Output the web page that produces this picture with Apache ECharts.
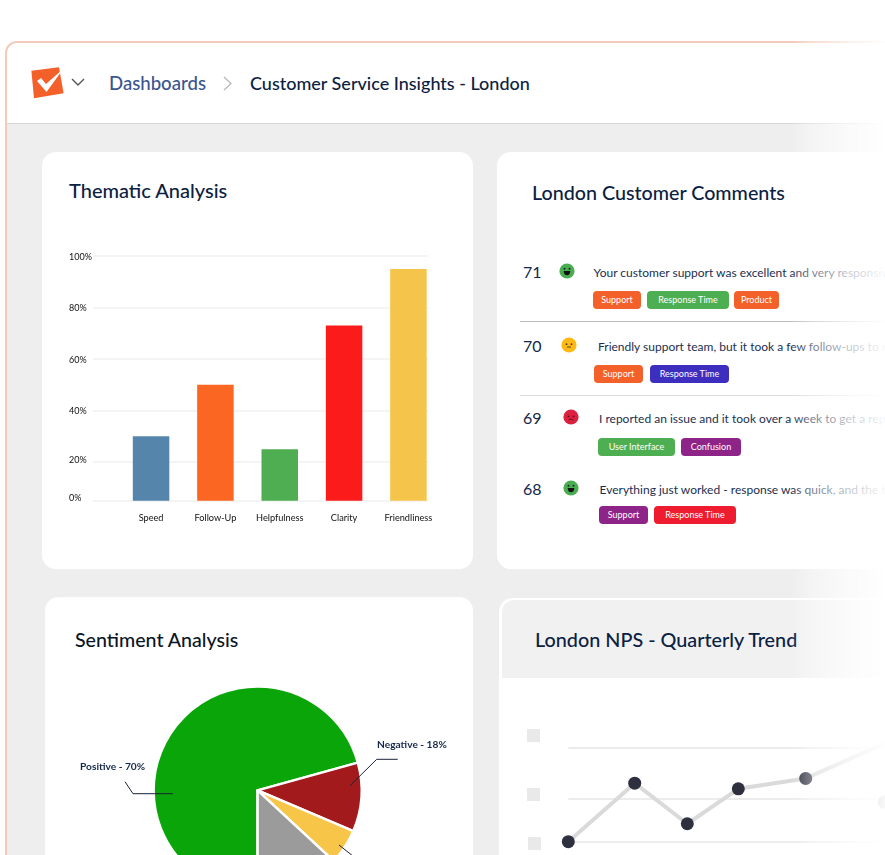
<!DOCTYPE html>
<html><head><meta charset="utf-8">
<script src="https://cdn.jsdelivr.net/npm/echarts@6/dist/echarts.min.js"></script>
<style>
html,body{margin:0;padding:0;width:885px;height:855px;overflow:hidden;background:#fff;font-family:Lato,sans-serif;color:#0b2142}
.abs{position:absolute;white-space:nowrap}
#frame{left:5px;top:41px;width:900px;height:900px;border:2px solid #f3c9b8;border-radius:12px;background:#eee;box-sizing:border-box;overflow:hidden}
#head{left:0;top:0;width:900px;height:80px;background:#fff;border-bottom:1px solid #d6d6d6}
.card{background:#fff;border-radius:14px}
.t{font-weight:500;line-height:24px;transform-origin:left center}
.num{font-size:16px;line-height:20px;color:#13284a}
.msg{font-size:12px;line-height:16px;color:#1b2f50}
.tag{height:18px;line-height:18px;border-radius:4px;color:#fff;font-size:9px;text-align:center}
#fade{left:790px;top:0;width:95px;height:855px;background:linear-gradient(90deg,rgba(255,255,255,0) 0,rgba(255,255,255,.35) 20%,rgba(255,255,255,.72) 62%,rgba(255,255,255,.96) 100%);z-index:5}
#chart{position:absolute;left:0;top:0;width:885px;height:855px;z-index:3}
.sq{width:13px;height:13px;background:#e9e9e9}
</style></head><body>
<div class="abs" id="frame"><div class="abs" id="head"></div></div>
<svg class="abs" style="left:28px;top:64px" width="38" height="38" viewBox="0 0 38 38">
<path d="M3.4 6.7 L31 3.3 L35.6 29.3 L6 34.3 Z" fill="#f4602a"/>
<path d="M9 17 L13 14 L18 20 L35.6 4.5 L18.5 28 Z" fill="#fff"/></svg>
<svg class="abs" style="left:71px;top:78px" width="14" height="9"><path d="M1 1 L7 7 L13 1" fill="none" stroke="#555" stroke-width="1.4"/></svg>
<div class="abs t" id="crumb1" style="left:109px;top:71px;font-size:18.6px;color:#3a5590">Dashboards</div>
<svg class="abs" style="left:223px;top:76px" width="10" height="15"><path d="M1 1 L8 7.5 L1 14" fill="none" stroke="#bbb" stroke-width="1.4"/></svg>
<div class="abs t" style="left:250px;top:71px;font-size:18px">Customer Service Insights - London</div>

<div class="abs card" style="left:42px;top:152px;width:431px;height:417px"></div>
<div class="abs card" style="left:497px;top:152px;width:420px;height:417px"></div>
<div class="abs card" style="left:45px;top:597px;width:428px;height:300px"></div>
<div class="abs" style="left:499px;top:598px;width:420px;height:300px;background:#fff;border-radius:14px"></div>
<div class="abs" style="left:502px;top:600px;width:420px;height:78px;background:#f1f1f2;border-radius:12px 0 0 0"></div>

<div class="abs t" style="left:69px;top:178px;font-size:20px">Thematic Analysis</div>
<div class="abs t" style="left:532px;top:181px;font-size:19.7px">London Customer Comments</div>
<div class="abs t" style="left:75px;top:628px;font-size:19.6px;color:#0a1526">Sentiment Analysis</div>
<div class="abs t" style="left:535px;top:627px;font-size:19.8px">London NPS - Quarterly Trend</div>
<div id="rows"></div>
<div class="abs" style="left:520px;top:320.5px;width:365px;height:1.5px;background:#bdbdbd"></div>
<div class="abs" style="left:520px;top:394.5px;width:365px;height:1.5px;background:#dcdcdc"></div>
<div class="abs sq" style="left:527px;top:729px"></div>
<div class="abs sq" style="left:527px;top:788px"></div>
<div class="abs sq" style="left:528px;top:837px"></div>
<div id="chart"></div>
<div class="abs" id="fade"></div>
<script>
// ---- data ----
const themeNames = ['Speed','Follow-Up','Helpfulness','Clarity','Friendliness'];
const themeValues = [30,50,25,73,95];
const themeColors = ['#5585ab','#fb6722','#4fae52','#fb1b1b','#f5c44a'];
const axisTickValues = [5,20,40,60,80,100];
const axisTickLabels = ['0%','20%','40%','60%','80%','100%'];
const sentimentLabels = ['Positive - 70%','Negative - 18%',' ',''];
const sentimentValues = [70.7,10.7,5.5,13.1];
const sentimentColors = ['#0aa508','#a31a1c','#f7c548','#9b9b9b'];
const trendX = [0,66.4,119,170,237.4,340];
const trendY = [0,62,19,56,67,115];
const trendGrid = [0,46,100];
const strayDot = [[316,42]];
const comments = [
 {n:71,mood:'happy',x:593.5,y:273,nx:523,fx:567,text:'Your customer support was excellent and very responsive to my questions',ty:291,tags:[['Support',593,48,'#f4602a'],['Response Time',647,82,'#4eae52'],['Product',734,45,'#f4602a']]},
 {n:70,mood:'flat',x:598,y:347,nx:523,fx:569,text:'Friendly support team, but it took a few follow-ups to resolve',ty:365,tags:[['Support',594,49,'#f4602a'],['Response Time',650,79,'#3d2ec0']]},
 {n:69,mood:'sad',x:599,y:419,nx:523,fx:570.5,text:'I reported an issue and it took over a week to get a reply',ty:437.5,tags:[['User Interface',598,77,'#4eae52'],['Confusion',681,60,'#8e2388']]},
 {n:68,mood:'happy',x:599.5,y:490,nx:523,fx:570.5,text:'Everything just worked - response was quick, and the team',ty:506,tags:[['Support',599,49,'#8e2388'],['Response Time',654,82,'#ee1c2e']]}
];
// ---- comment rows ----
const faces={
 happy:'<circle cx="8" cy="8" r="7.6" fill="#4aae50"/><circle cx="5.5" cy="5.8" r="1" fill="#123"/><circle cx="10.5" cy="5.8" r="1" fill="#123"/><path d="M4.6 8 H11.4 Q11 12.2 8 12.2 Q5 12.2 4.6 8Z" fill="#111"/>',
 flat:'<circle cx="8" cy="8" r="7.6" fill="#fdb913"/><circle cx="5.5" cy="7.2" r=".9" fill="#533"/><circle cx="10.5" cy="7.2" r=".9" fill="#533"/><path d="M6 10 H10" stroke="#533" stroke-width=".9"/>',
 sad:'<circle cx="8" cy="8" r="7.6" fill="#dc2040"/><circle cx="5.5" cy="7.4" r=".9" fill="#611"/><circle cx="10.5" cy="7.4" r=".9" fill="#611"/><path d="M5.5 11 Q8 9 10.5 11" fill="none" stroke="#611" stroke-width=".9"/>'};
let html='';
comments.forEach(c=>{
 html+=`<div class="abs num" style="left:${c.nx}px;top:${c.y-11}px">${c.n}</div>`;
 html+=`<svg class="abs" style="left:${c.fx-8}px;top:${c.y-10}px" width="16" height="16">${faces[c.mood]}</svg>`;
 html+=`<div class="abs msg" style="left:${c.x}px;top:${c.y-8}px">${c.text}</div>`;
 c.tags.forEach(t=>{html+=`<div class="abs tag" style="left:${t[1]}px;top:${c.ty}px;width:${t[2]}px;background:${t[3]}">${t[0]}</div>`;});
});
document.getElementById('rows').innerHTML=html;
// ---- charts ----
const font='Lato';
const chart=echarts.init(document.getElementById('chart'),null,{renderer:'canvas'});
const labelPos={
 0:{x:80,y:766.5,pts:[[172.7,793.7],[133,793.7],[125,781.7]]},
 1:{x:377,y:745,pts:[[350,785.7],[376.7,759.3],[397.7,759.3]]},
 2:{x:360,y:880,pts:[[339,845],[358,860],[360,880]]}
};
const labelBase={fontFamily:font,fontSize:9,color:'#111'};
chart.setOption({
 backgroundColor:'transparent',
 animation:false,
 grid:[
  {left:93,top:256,width:335,height:244.7},
  {left:118.9,top:256,width:321.7,height:244.7},
  {left:568.3,top:747.3,width:316.7,height:94.4}
 ],
 xAxis:[
  {gridIndex:0,type:'value',show:false,min:0,max:1},
  {gridIndex:1,type:'category',data:themeNames,axisLine:{show:false},axisTick:{show:false},
   axisLabel:{margin:13,fontFamily:font,fontSize:9.2,color:'#111'}},
  {gridIndex:2,type:'value',show:false,min:0,max:316.7}
 ],
 yAxis:[
  {gridIndex:0,type:'value',min:5,max:100,axisLine:{show:false},axisTick:{show:false},splitLine:{show:false},
   axisLabel:{customValues:axisTickValues,align:'left',margin:24,...labelBase,
    formatter:v=>{const s=axisTickLabels[axisTickValues.indexOf(v)];return v===5?`{z|${s}}`:v===20?`{y|${s}}`:`{a|${s}}`;},
    rich:{z:{...labelBase,padding:[0,0,6,0]},y:{...labelBase,padding:[0,0,3,0]},a:{...labelBase,padding:[2,0,0,0]}}}},
  {gridIndex:1,type:'value',min:5,max:100,show:false},
  {gridIndex:2,type:'value',min:0,max:100,show:false}
 ],
 series:[
  {type:'line',xAxisIndex:0,yAxisIndex:0,data:[[0,5],[1,5]],symbol:'none',lineStyle:{opacity:0},z:1,
   markLine:{silent:true,z:1,symbol:'none',label:{show:false},lineStyle:{color:'#f0f0f0',width:1.5,type:'solid'},
    data:axisTickValues.map(v=>({yAxis:v}))}},
  {type:'bar',xAxisIndex:1,yAxisIndex:1,barWidth:36.5,z:3,
   data:themeValues.map((v,i)=>({value:v,itemStyle:{color:themeColors[i]}}))},
  {type:'pie',z:2,center:[257.6,790.4],radius:104,startAngle:270,clockwise:true,avoidLabelOverlap:false,silent:true,
   itemStyle:{borderColor:'#fff',borderWidth:2.5},label:{show:false},labelLine:{show:false},
   data:sentimentValues.map((v,i)=>({value:v,name:sentimentLabels[i],itemStyle:{color:sentimentColors[i]}}))},
  {type:'pie',z:3,center:[257.6,790.4],radius:104,startAngle:270,clockwise:true,avoidLabelOverlap:false,silent:true,
   itemStyle:{color:'transparent',borderWidth:0},
   label:{show:true,formatter:p=>sentimentLabels[p.dataIndex],fontFamily:font,fontWeight:700,fontSize:10.2,color:'#13284a'},
   labelLine:{show:true,lineStyle:{color:'#1a2238',width:1}},
   labelLayout:p=>{const l=labelPos[p.dataIndex];return l?{x:l.x,y:l.y,align:'left',verticalAlign:'middle',labelLinePoints:l.pts}:{};},
   data:sentimentValues.map((v,i)=>({value:v,name:sentimentLabels[i],
     label:{show:i<3},labelLine:{show:i<3}}))},
  {type:'line',xAxisIndex:2,yAxisIndex:2,z:4,clip:false,
   data:trendX.map((x,i)=>[x,trendY[i]]),
   symbol:'circle',symbolSize:13,
   lineStyle:{color:'#dadada',width:4},itemStyle:{color:'#2e3040'},
   markLine:{silent:true,symbol:'none',label:{show:false},z:1,lineStyle:{color:'#e6e6e6',width:1.5,type:'solid'},
    data:trendGrid.map(v=>({yAxis:v}))}},
  {type:'scatter',xAxisIndex:2,yAxisIndex:2,data:strayDot,symbolSize:13,itemStyle:{color:'#2e3040'},clip:false,z:4}
 ]
});
</script>
</body></html>
